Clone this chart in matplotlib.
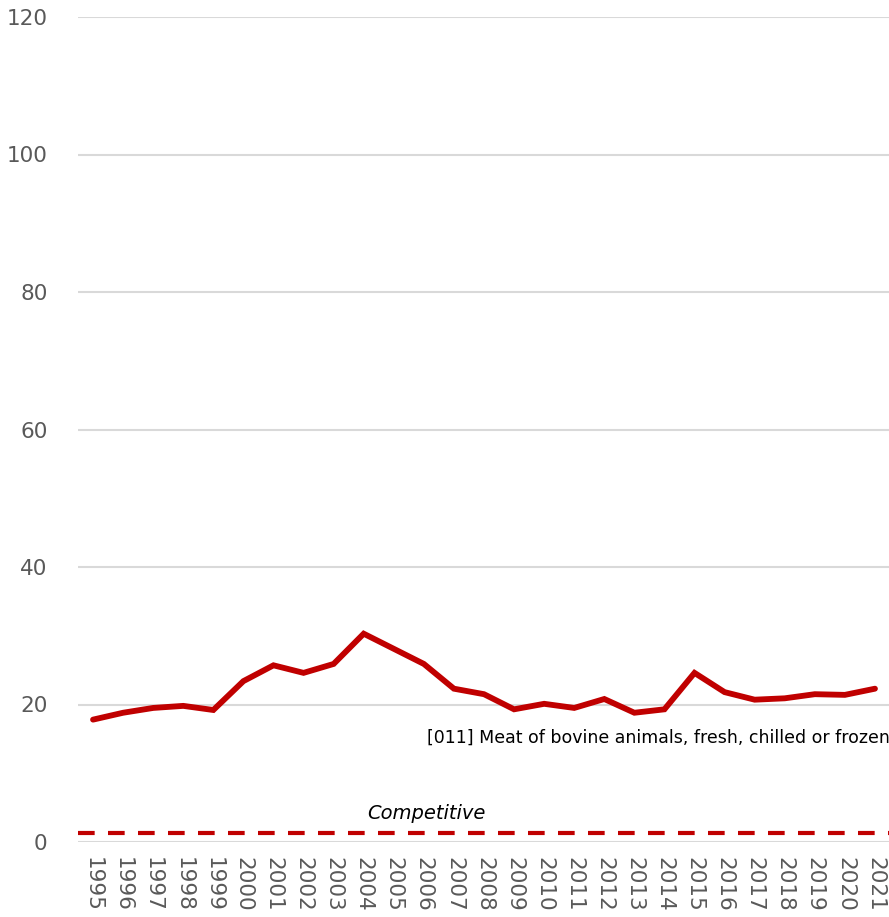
import matplotlib
matplotlib.use("Agg")
import matplotlib.pyplot as plt

years = [str(y) for y in range(1995, 2022)]
values = [17.8, 18.8, 19.5, 19.8, 19.2, 23.4, 25.7, 24.6, 25.9, 30.3,
          28.1, 25.9, 22.3, 21.5, 19.3, 20.1, 19.5, 20.8, 18.8, 19.3,
          24.6, 21.8, 20.7, 20.9, 21.5, 21.4, 22.3]
competitive = 1.3
series_label = "[011] Meat of bovine animals, fresh, chilled or frozen"
yticks = [0, 20, 40, 60, 80, 100, 120]

plt.rcParams['font.family'] = ['DejaVu Sans']

fig = plt.figure(figsize=(8.89, 9.17), dpi=100)
ax = fig.add_axes([78 / 889, 75 / 917, 812 / 889, 825 / 917])

x = list(range(len(years)))
ax.plot(x, values, color='#c00000', linewidth=4.2, solid_capstyle='round',
        solid_joinstyle='miter', zorder=3)
ax.plot([-0.5, len(years) - 0.5], [competitive, competitive], color='#c00000',
        linewidth=3, linestyle=(0, (4, 3.2)), zorder=3)

ax.set_xlim(-0.5, len(years) - 0.5)
ax.set_ylim(0, 120)
ax.set_yticks(yticks)
ax.set_xticks(x)
ax.set_xticklabels(years, rotation=270, fontsize=15.5, color='#595959')
ax.tick_params(axis='y', labelsize=15.5, labelcolor='#595959', length=0, pad=22)
ax.tick_params(axis='x', length=0, pad=11)
ax.grid(axis='y', color='#d9d9d9', linewidth=1.5)
ax.set_axisbelow(True)
for s in ax.spines.values():
    s.set_visible(False)

ax.text(len(years) - 0.5, 15.1, series_label, ha='right', va='center',
        fontsize=12.5, color='black')
ax.text(11.1, 4.2, "Competitive", ha='center', va='center', fontsize=14,
        style='italic', color='black')

fig.savefig("out.png", dpi=100)
